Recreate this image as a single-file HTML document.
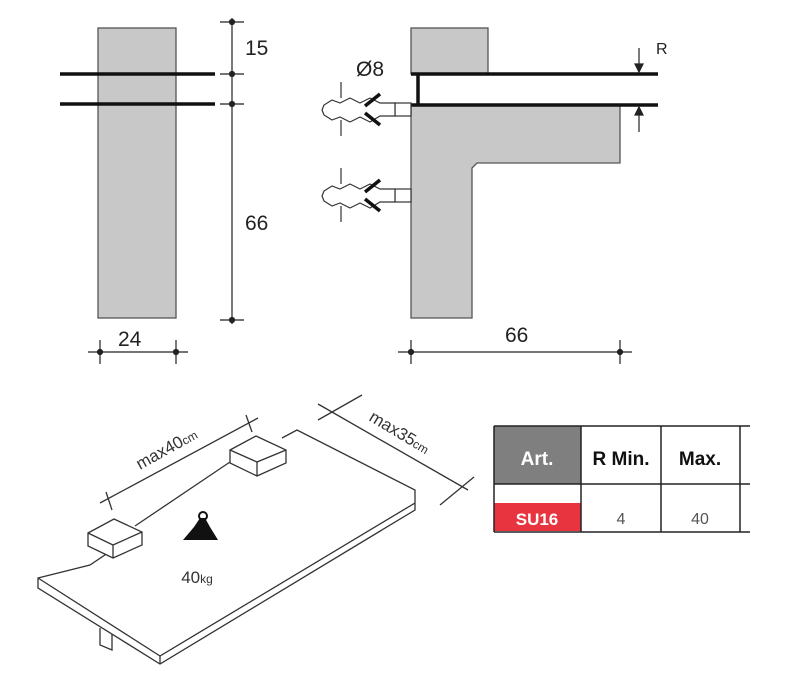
<!DOCTYPE html>
<html><head><style>body{margin:0;background:#fff}svg{display:block}text{font-family:"Liberation Sans",Arial,sans-serif}</style></head><body>
<svg width="800" height="679" viewBox="0 0 800 679">
<g fill="#c8c8c9" stroke="#555" stroke-width="1.3">
<rect x="98" y="28" width="78" height="290"/>
<rect x="411" y="28" width="77" height="46"/>
<path d="M411 105 H620 V163 H477 L472 168 V318 H411 Z"/>
</g>
<g stroke="#111" stroke-width="3.5">
<line x1="60" y1="74" x2="215" y2="74"/><line x1="60" y1="104" x2="215" y2="104"/>
<line x1="411" y1="74" x2="658" y2="74"/><line x1="411" y1="105" x2="658" y2="105"/>
<line x1="418" y1="74" x2="418" y2="105"/>
</g>
<g stroke="#222" stroke-width="1.2" fill="#222">
<line x1="232" y1="18" x2="232" y2="324"/>
<circle cx="232" cy="22" r="2.5"/><circle cx="232" cy="74" r="2.5"/><circle cx="232" cy="104" r="2.5"/><circle cx="232" cy="320" r="2.5"/>
<line x1="220" y1="22" x2="244" y2="22"/><line x1="220" y1="74" x2="244" y2="74"/><line x1="220" y1="104" x2="244" y2="104"/><line x1="220" y1="320" x2="244" y2="320"/>
<line x1="88" y1="352" x2="188" y2="352"/><line x1="100" y1="340" x2="100" y2="364"/><line x1="176" y1="340" x2="176" y2="364"/>
<circle cx="100" cy="352" r="2.5"/><circle cx="176" cy="352" r="2.5"/>
<line x1="398" y1="352" x2="632" y2="352"/><line x1="411" y1="340" x2="411" y2="364"/><line x1="620" y1="340" x2="620" y2="364"/>
<circle cx="411" cy="352" r="2.5"/><circle cx="620" cy="352" r="2.5"/>
<line x1="639" y1="48" x2="639" y2="72"/><path d="M635 64 L639 72 L643 64Z"/>
<line x1="639" y1="107" x2="639" y2="132"/><path d="M635 115 L639 107 L643 115Z"/>
</g>
<g font-size="21" fill="#222">
<text x="245" y="55">15</text><text x="245" y="230">66</text><text x="118" y="346">24</text><text x="505" y="342">66</text>
<text x="356" y="76">Ø8</text><text x="656" y="54" font-size="16">R</text>
</g>
<g id="anc" stroke="#333" stroke-width="1.2" fill="#fff">
<rect x="395" y="103" width="16" height="13"/>
<path d="M395 103 H380 L370 98 L360 103 L350 98 L340 103 L332 100 L324 105 L322 110 L324 115 L332 120 L340 117 L350 122 L360 117 L370 122 L380 116 H395 Z"/>
<line x1="365" y1="106" x2="380" y2="94" stroke-width="3.5" stroke="#111"/>
<line x1="365" y1="113" x2="380" y2="125" stroke-width="3.5" stroke="#111"/>
<line x1="341" y1="82" x2="341" y2="98"/><line x1="341" y1="120" x2="341" y2="136"/>
</g>
<use href="#anc" y="86"/>
<!-- shelf -->
<g stroke="#333" stroke-width="1.3" fill="#fff">
<path d="M100 628 L100 645 L112 650 L112 633"/>
<path d="M38 578 L160 656 L415 503 L415 490 L297 430 L282 438 M130 538 L90 565 L38 578 L38 588 L160 664 L415 510 L415 503"/>
<line x1="160" y1="656" x2="160" y2="664"/>
<path d="M88 533 L114 519 L142 532 L142 545 L113 558 L88 546 Z M88 533 L113 545 L142 532 M113 545 L113 558"/>
<path d="M230 450 L256 436 L286 450 L286 463 L257 476 L230 463 Z M230 450 L257 462 L286 450 M257 462 L257 476"/>
<line x1="230" y1="462" x2="135" y2="526" fill="none"/>
<line x1="100" y1="503" x2="258" y2="418"/><line x1="106" y1="492" x2="112" y2="510"/><line x1="246" y1="415" x2="252" y2="432"/>
<line x1="318" y1="404" x2="468" y2="490"/><line x1="318" y1="420" x2="362" y2="395"/><line x1="440" y1="505" x2="474" y2="477"/>
</g>
<path d="M200 518 L194 527 L183 540 L218 540 L210 527 L205 518Z" fill="#111"/><circle cx="203" cy="516" r="4" fill="none" stroke="#111" stroke-width="2"/>
<g fill="#333" font-size="17">
<text x="197" y="583" text-anchor="middle">40<tspan font-size="12">kg</tspan></text>
<text transform="translate(140 470) rotate(-29)">max40<tspan font-size="12">cm</tspan></text>
<text transform="translate(368 420) rotate(31)">max35<tspan font-size="12">cm</tspan></text>
</g>
<!-- table -->
<rect x="494" y="426" width="87" height="58" fill="#807f80"/>
<rect x="494" y="503" width="87" height="28" fill="#e8343f"/>
<g stroke="#222" stroke-width="1.5">
<line x1="494" y1="426" x2="750" y2="426"/><line x1="494" y1="484" x2="750" y2="484"/><line x1="494" y1="532" x2="750" y2="532"/>
<line x1="494" y1="426" x2="494" y2="532"/><line x1="581" y1="426" x2="581" y2="532"/><line x1="661" y1="426" x2="661" y2="532"/><line x1="740" y1="426" x2="740" y2="532"/>
</g>
<g font-size="19" font-weight="bold" text-anchor="middle">
<text x="537" y="465" fill="#fff">Art.</text><text x="621" y="465" fill="#111">R Min.</text><text x="700" y="465" fill="#111">Max.</text>
<text x="537" y="525" fill="#fff" font-size="17">SU16</text>
</g>
<g font-size="16" fill="#555" text-anchor="middle"><text x="621" y="524">4</text><text x="700" y="524">40</text></g>
</svg>
</body></html>
